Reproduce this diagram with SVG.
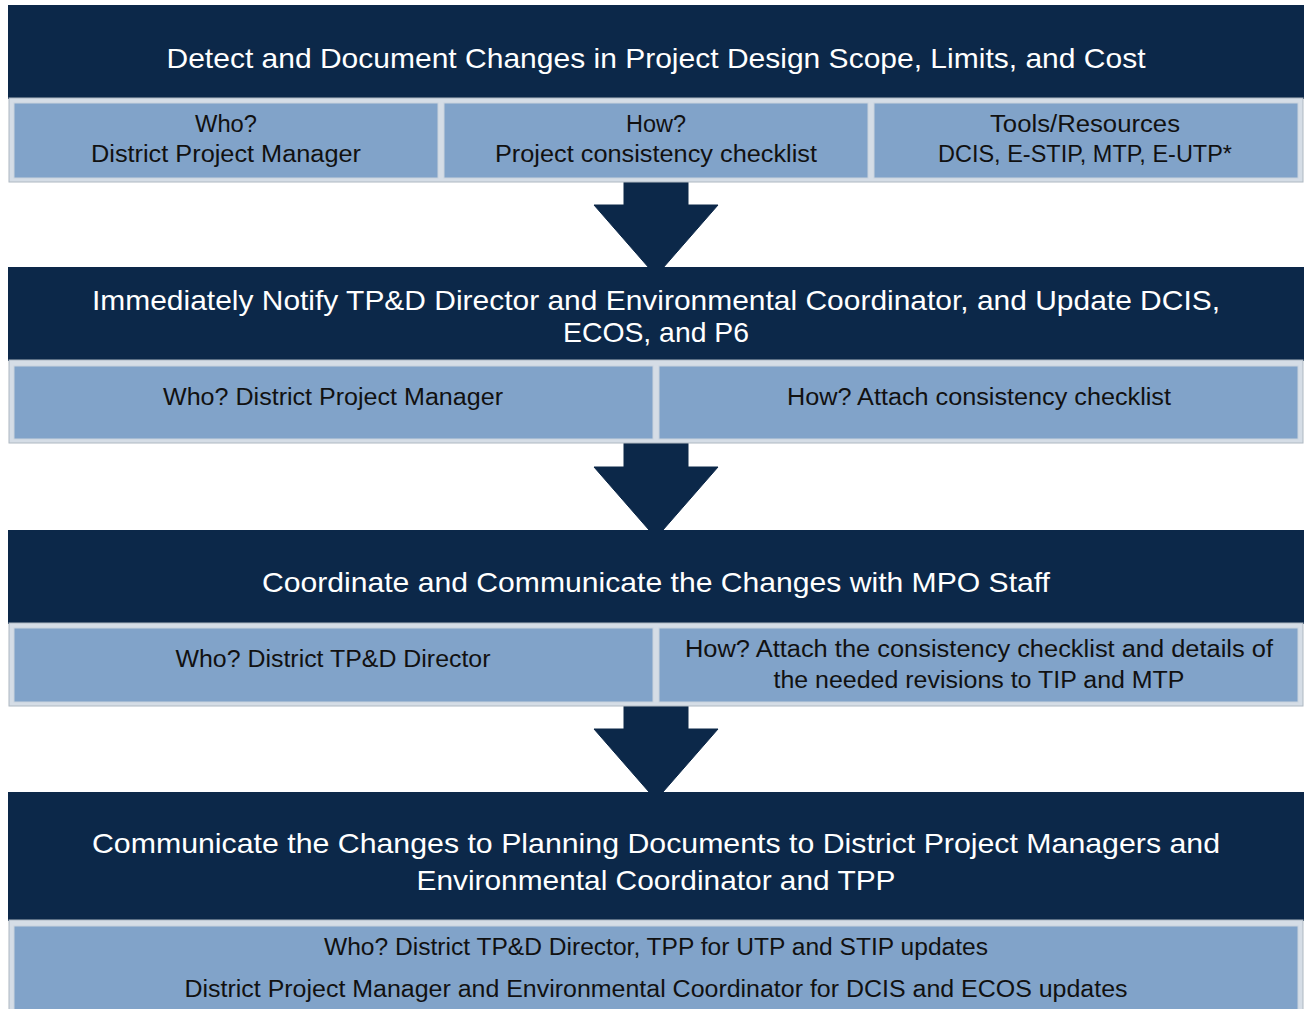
<svg xmlns="http://www.w3.org/2000/svg" width="1304" height="1009" viewBox="0 0 1304 1009">
<style>
.banner{fill:#0C2849;}
.row{fill:#D5DDE6;stroke:#AEB8C2;stroke-width:1;}
.cell{fill:#81A3C9;stroke:#C9D3DD;stroke-width:1;}
.arrow{fill:#0C2849;stroke:#0C2849;stroke-width:1;stroke-linejoin:round;}
.title{font-family:"Liberation Sans",Arial,sans-serif;font-size:28px;fill:#FFFFFF;text-anchor:middle;}
.txt{font-family:"Liberation Sans",Arial,sans-serif;font-size:23px;fill:#111111;text-anchor:middle;}
</style>
<rect x="0" y="0" width="1304" height="1009" fill="#FFFFFF"/>
<g id="connectors">
<polygon class="arrow" points="624,182 688,182 688,205 718,205 656,276 594,205 624,205"/>
<polygon class="arrow" points="624,443 688,443 688,467 718,467 656,538 594,467 624,467"/>
<polygon class="arrow" points="624,706 688,706 688,729 718,729 656,800 594,729 624,729"/>
</g>
<g id="step1">
<rect class="banner" x="8" y="5" width="1296" height="94"/>
<text class="title" x="656" y="68" textLength="979" lengthAdjust="spacingAndGlyphs">Detect and Document Changes in Project Design Scope, Limits, and Cost</text>
<rect class="row" x="9" y="98" width="1294" height="84"/>
<rect class="cell" x="14" y="103" width="424" height="75"/>
<rect class="cell" x="444" y="103" width="424" height="75"/>
<rect class="cell" x="874" y="103" width="424" height="75"/>
<text class="txt" x="226" y="132" textLength="62" lengthAdjust="spacingAndGlyphs">Who?</text>
<text class="txt" x="226" y="162" textLength="270" lengthAdjust="spacingAndGlyphs">District Project Manager</text>
<text class="txt" x="656" y="132" textLength="60" lengthAdjust="spacingAndGlyphs">How?</text>
<text class="txt" x="656" y="162" textLength="322" lengthAdjust="spacingAndGlyphs">Project consistency checklist</text>
<text class="txt" x="1085" y="132" textLength="190" lengthAdjust="spacingAndGlyphs">Tools/Resources</text>
<text class="txt" x="1085" y="162" textLength="294" lengthAdjust="spacingAndGlyphs">DCIS, E-STIP, MTP, E-UTP*</text>
</g>
<g id="step2">
<rect class="banner" x="8" y="267" width="1296" height="94"/>
<text class="title" x="656" y="310" textLength="1128" lengthAdjust="spacingAndGlyphs">Immediately Notify TP&amp;D Director and Environmental Coordinator, and Update DCIS,</text>
<text class="title" x="656" y="342" textLength="186" lengthAdjust="spacingAndGlyphs">ECOS, and P6</text>
<rect class="row" x="9" y="360" width="1294" height="83"/>
<rect class="cell" x="14" y="366" width="639" height="73"/>
<rect class="cell" x="659" y="366" width="639" height="73"/>
<text class="txt" x="333" y="405" textLength="340" lengthAdjust="spacingAndGlyphs">Who? District Project Manager</text>
<text class="txt" x="979" y="405" textLength="384" lengthAdjust="spacingAndGlyphs">How? Attach consistency checklist</text>
</g>
<g id="step3">
<rect class="banner" x="8" y="530" width="1296" height="94"/>
<text class="title" x="656" y="592" textLength="788" lengthAdjust="spacingAndGlyphs">Coordinate and Communicate the Changes with MPO Staff</text>
<rect class="row" x="9" y="623" width="1294" height="83"/>
<rect class="cell" x="14" y="628" width="639" height="74"/>
<rect class="cell" x="659" y="628" width="639" height="74"/>
<text class="txt" x="333" y="667" textLength="315" lengthAdjust="spacingAndGlyphs">Who? District TP&amp;D Director</text>
<text class="txt" x="979" y="657" textLength="588" lengthAdjust="spacingAndGlyphs">How? Attach the consistency checklist and details of</text>
<text class="txt" x="979" y="688" textLength="411" lengthAdjust="spacingAndGlyphs">the needed revisions to TIP and MTP</text>
</g>
<g id="step4">
<rect class="banner" x="8" y="792" width="1296" height="129"/>
<text class="title" x="656" y="853" textLength="1128" lengthAdjust="spacingAndGlyphs">Communicate the Changes to Planning Documents to District Project Managers and</text>
<text class="title" x="656" y="890" textLength="479" lengthAdjust="spacingAndGlyphs">Environmental Coordinator and TPP</text>
<rect class="row" x="9" y="920" width="1294" height="100"/>
<rect class="cell" x="14" y="926" width="1284" height="100"/>
<text class="txt" x="656" y="955" textLength="664" lengthAdjust="spacingAndGlyphs">Who? District TP&amp;D Director, TPP for UTP and STIP updates</text>
<text class="txt" x="656" y="997" textLength="943" lengthAdjust="spacingAndGlyphs">District Project Manager and Environmental Coordinator for DCIS and ECOS updates</text>
</g>
</svg>
